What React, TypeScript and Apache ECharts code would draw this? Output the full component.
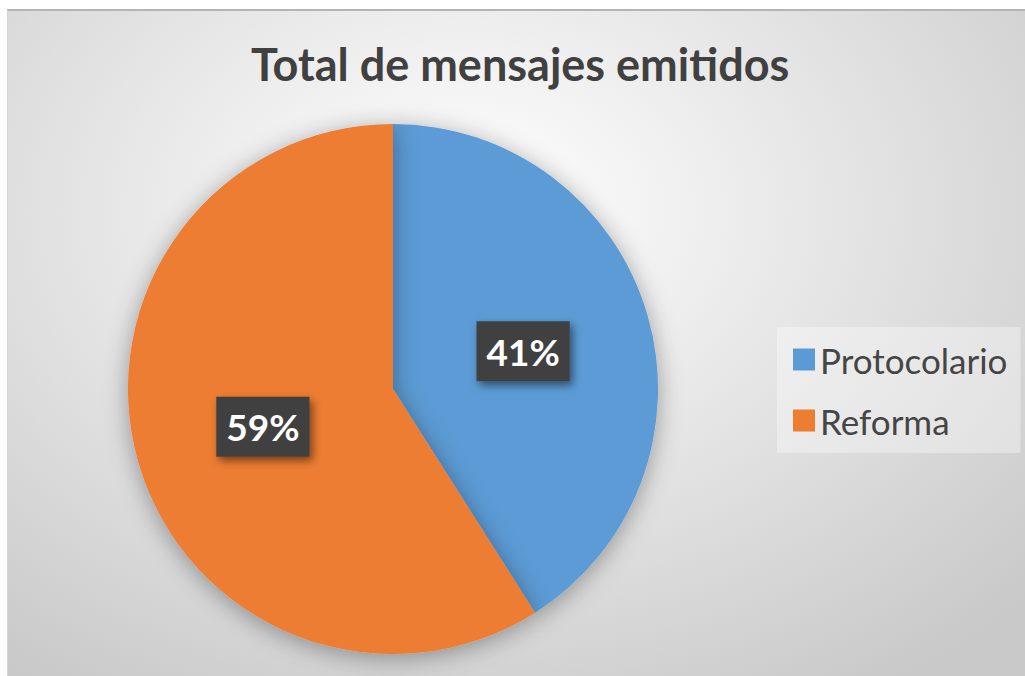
import React, { useEffect, useRef } from "react";
import * as echarts from "echarts";

const titleText = "Total de mensajes emitidos";
const categories = ["Protocolario", "Reforma"];
const values = [41, 59];
const colors = ["#5B9BD5", "#ED7D31"];

export default function App() {
  const ref = useRef<HTMLDivElement>(null);
  useEffect(() => {
    if (!ref.current) return;
    const chart = echarts.init(ref.current, undefined, { renderer: "svg" });
    chart.setOption({
      animation: false,
      title: {
        text: titleText,
        left: 238,
        top: 25,
        textStyle: {
          fontFamily: "Lato",
          fontSize: 45,
          fontWeight: "bold",
          color: "#404040",
        },
      },
      legend: {
        orient: "vertical",
        left: 769,
        top: 316,
        padding: [15, 13, 15, 16],
        itemGap: 26,
        itemWidth: 22,
        itemHeight: 22,
        icon: "rect",
        backgroundColor: "rgba(255,255,255,0.35)",
        textStyle: {
          fontFamily: "Lato",
          fontSize: 35,
          color: "#454545",
        },
        data: categories,
      },
      series: [
        {
          type: "pie",
          center: [385, 378],
          radius: [0, 265],
          startAngle: 90,
          clockwise: true,
          itemStyle: {
            shadowBlur: 25,
            shadowColor: "rgba(0,0,0,0.35)",
            shadowOffsetY: 4,
          },
          label: {
            show: true,
            position: "inside",
            formatter: "{d}%",
            fontFamily: "Lato",
            fontSize: 37,
            fontWeight: "bold",
            color: "#ffffff",
            backgroundColor: "#404040",
            padding: [10, 10],
            lineHeight: 40,
            shadowColor: "rgba(0,0,0,0.5)",
            shadowBlur: 8,
            shadowOffsetX: 3,
            shadowOffsetY: 4,
          },
          labelLine: { show: false },
          emphasis: { disabled: true },
          data: categories.map((c, i) => ({
            name: c,
            value: values[i],
            itemStyle: { color: colors[i] },
          })),
        },
      ],
    });
    return () => chart.dispose();
  }, []);
  return (
    <div
      style={{
        position: "absolute",
        left: 7,
        top: 9,
        width: 1018,
        height: 667,
        boxSizing: "border-box",
        borderTop: "2px solid #b4b4b4",
        borderLeft: "1px solid #d4d4d4",
        background:
          "radial-gradient(ellipse 75% 85% at 45% 30%, #ffffff 0%, #f2f2f2 25%, #c9c9c9 100%)",
      }}
    >
      <div ref={ref} style={{ width: "100%", height: "100%" }} />
    </div>
  );
}
